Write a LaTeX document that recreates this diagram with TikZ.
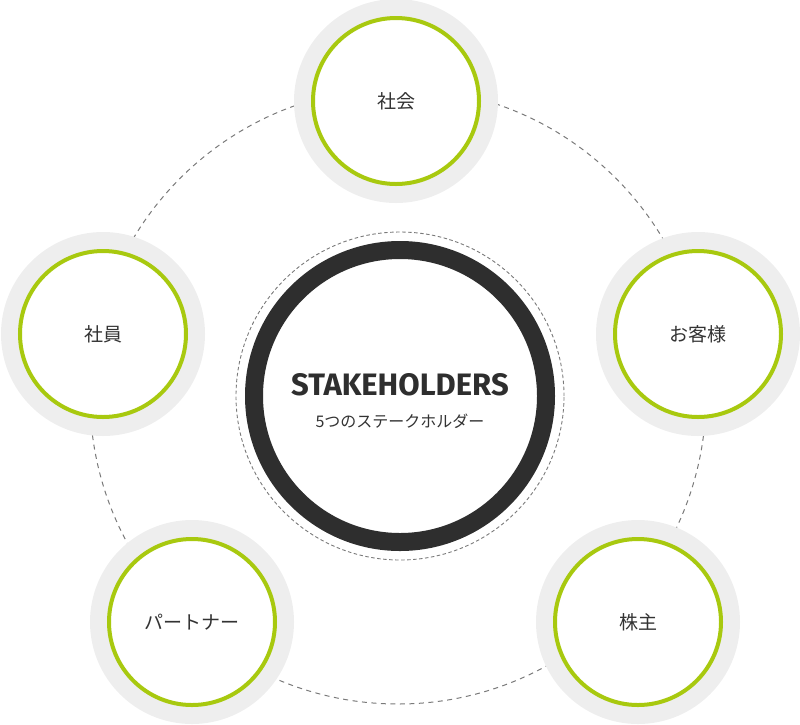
\documentclass[tikz,border=0pt]{standalone}
\usepackage{fontspec}
\newfontfamily\jpfont{Noto Sans CJK JP}
\newfontfamily\latinfont{Fira Sans}
\usetikzlibrary{positioning}
\definecolor{lime}{HTML}{A8C90F}
\definecolor{haze}{HTML}{EEEEEE}
\definecolor{ink}{HTML}{2E2E2E}
\definecolor{words}{HTML}{333333}
\definecolor{dashgray}{HTML}{7A7A7A}

\begin{document}
\begin{tikzpicture} [
						x=1pt, y=-1pt,
						node distance=17pt,
						holder/.style={circle, minimum size=166pt, inner sep=0pt, fill=white, draw=lime, line width=4pt, preaction={draw=haze, line width=38pt}, text=words, font=\jpfont\fontsize{19}{22}\selectfont},
						hub/.style={circle, minimum size=292pt, inner sep=0pt, fill=white, draw=ink, line width=18pt},
						orbit/.style={draw=dashgray, line width=1pt, dash pattern=on 5pt off 4.5pt},
						halo/.style={draw=dashgray, line width=0.9pt, dash pattern=on 3.5pt off 2.5pt}
					]

\useasboundingbox (0,0) rectangle (800,724);

\coordinate (mid) at (398,396);
\path[orbit] (mid) circle (308pt);

\node (society)     [holder] at (396,101) {社会};
\node (staff)       [holder] at (103,334) {社員};
\node (customer)    [holder] at (698,334) {お客様};
\node (partner)     [holder] at (192,622) {パートナー};
\node (shareholder) [holder] at (638,622) {株主};

\node (hub) [hub] at (400,396) {};
\path[halo] (hub.center) circle (164pt);

\node (title) [inner sep=0pt, text=ink, font=\latinfont\bfseries\fontsize{31}{36}\selectfont] at ([yshift=11pt]hub.center) {STAKEHOLDERS};
\node (subtitle) [inner sep=0pt, below=of title, text=words, font=\jpfont\fontsize{16}{19}\selectfont] {5つのステークホルダー};

\end{tikzpicture}
\end{document}
